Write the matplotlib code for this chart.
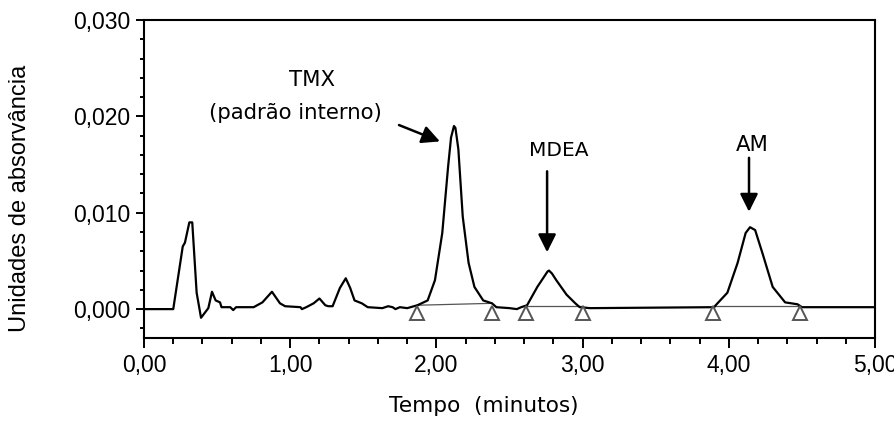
import numpy as np
import matplotlib.pyplot as plt
from matplotlib.ticker import MultipleLocator, FuncFormatter

# chromatogram trace (time in minutes, absorbance units)
tempo = [0.00, 0.20, 0.265, 0.28, 0.31, 0.33, 0.36, 0.39, 0.44, 0.465, 0.49, 0.52,
         0.53, 0.59, 0.61, 0.63, 0.75, 0.81, 0.875, 0.93, 0.965, 1.07, 1.08, 1.11,
         1.16, 1.20, 1.24, 1.26, 1.29, 1.34, 1.38, 1.41, 1.44, 1.49, 1.53, 1.63,
         1.67, 1.70, 1.72, 1.75, 1.80, 1.87, 1.94, 1.99, 2.04, 2.08, 2.10, 2.12,
         2.13, 2.15, 2.18, 2.22, 2.26, 2.32, 2.38, 2.41, 2.50, 2.55, 2.58, 2.62,
         2.69, 2.76, 2.77, 2.79, 2.82, 2.89, 2.95, 2.98, 3.05, 3.90, 3.91, 3.99,
         4.06, 4.115, 4.145, 4.18, 4.23, 4.30, 4.385, 4.47, 4.50, 5.00]
absorv = [0.0, 0.0, 0.0065, 0.0069, 0.0090, 0.0090, 0.0017, -0.0009, 0.0001, 0.0018,
          0.0009, 0.0007, 0.0002, 0.0002, -0.0001, 0.0002, 0.0002, 0.0007, 0.0018,
          0.0006, 0.0003, 0.0002, 0.0, 0.0002, 0.0006, 0.0011, 0.0004, 0.0003,
          0.0003, 0.0022, 0.0032, 0.0022, 0.0009, 0.0006, 0.0002, 0.0001, 0.0003,
          0.0002, 0.0, 0.0002, 0.0001, 0.0004, 0.0009, 0.0030, 0.0079, 0.0148,
          0.0178, 0.0190, 0.0188, 0.0166, 0.0096, 0.0048, 0.0023, 0.0009, 0.0006,
          0.0002, 0.0001, 0.0, 0.0002, 0.0004, 0.0023, 0.0039, 0.0040, 0.0037,
          0.0030, 0.0015, 0.0006, 0.0002, 0.0001, 0.0002, 0.0004, 0.0017, 0.0048,
          0.0079, 0.0085, 0.0082, 0.0058, 0.0023, 0.0007, 0.0005, 0.0002, 0.0002]

# integration baselines (start, end) and their markers
base_t = [(1.865, 2.38), (2.61, 3.00), (3.89, 4.49)]
base_y = [(0.0004, 0.0006), (0.0003, 0.0003), (0.0003, 0.0003)]
marca_y = -0.00045

virg = FuncFormatter(lambda v, p: ("%.2f" % v).replace(".", ","))
virg3 = FuncFormatter(lambda v, p: ("%.3f" % v).replace(".", ","))

fig = plt.figure(figsize=(8.95, 4.21), dpi=100)
ax = fig.add_axes([0.1609, 0.1971, 0.8168, 0.7554])

for (t0, t1), (y0, y1) in zip(base_t, base_y):
    ax.plot([t0, t1], [y0, y1], color="#555555", lw=0.9, zorder=2)
ax.plot(tempo, absorv, color="black", lw=1.6, zorder=3)
for (t0, t1) in base_t:
    ax.plot([t0, t1], [marca_y, marca_y], linestyle="None", marker="^", ms=10,
            mfc="white", mec="#555555", mew=1.4, zorder=4)

ax.set_xlim(0, 5)
ax.set_ylim(-0.003, 0.030)
ax.xaxis.set_major_locator(MultipleLocator(1))
ax.xaxis.set_minor_locator(MultipleLocator(0.2))
ax.yaxis.set_major_locator(MultipleLocator(0.01))
ax.yaxis.set_minor_locator(MultipleLocator(0.002))
ax.xaxis.set_major_formatter(virg)
ax.yaxis.set_major_formatter(virg3)
ax.tick_params(which="both", direction="out", width=1.4, top=False, right=False,
               labelsize=16.5, labelfontfamily="Liberation Sans")
ax.tick_params(axis="x", which="major", length=7.5, pad=4)
ax.tick_params(axis="x", which="minor", length=4)
ax.tick_params(axis="y", which="major", length=6, pad=4)
ax.tick_params(axis="y", which="minor", length=3)
for s in ax.spines.values():
    s.set_linewidth(1.5)

ax.set_xlabel("Tempo  (minutos)", fontsize=15.6, family="DejaVu Sans", va="center")
ax.xaxis.set_label_coords(0.465, -0.214)
ax.set_ylabel("Unidades de absorvância", fontsize=17, family="Liberation Sans",
              va="center", ha="center")
ax.yaxis.set_label_coords(-0.170, 0.44)

ax.text(1.149, 0.0238, "TMX", ha="center", va="center", fontsize=15.3)
ax.text(1.033, 0.0203, "(padrão interno)", ha="center", va="center", fontsize=15.3)
ax.text(2.84, 0.0165, "MDEA", ha="center", va="center", fontsize=14.5)
ax.text(4.16, 0.0170, "AM", ha="center", va="center", fontsize=15.3)

seta = dict(arrowstyle="-|>,head_length=0.9,head_width=0.45", color="black", lw=1.8,
            mutation_scale=12, shrinkA=0, shrinkB=0)
ax.annotate("", xy=(2.024, 0.0174), xytext=(1.744, 0.0191), arrowprops=seta)
ax.annotate("", xy=(2.757, 0.0059), xytext=(2.757, 0.0143), arrowprops=seta)
ax.annotate("", xy=(4.138, 0.0101), xytext=(4.138, 0.0157), arrowprops=seta)

fig.savefig("out.png", dpi=100)
